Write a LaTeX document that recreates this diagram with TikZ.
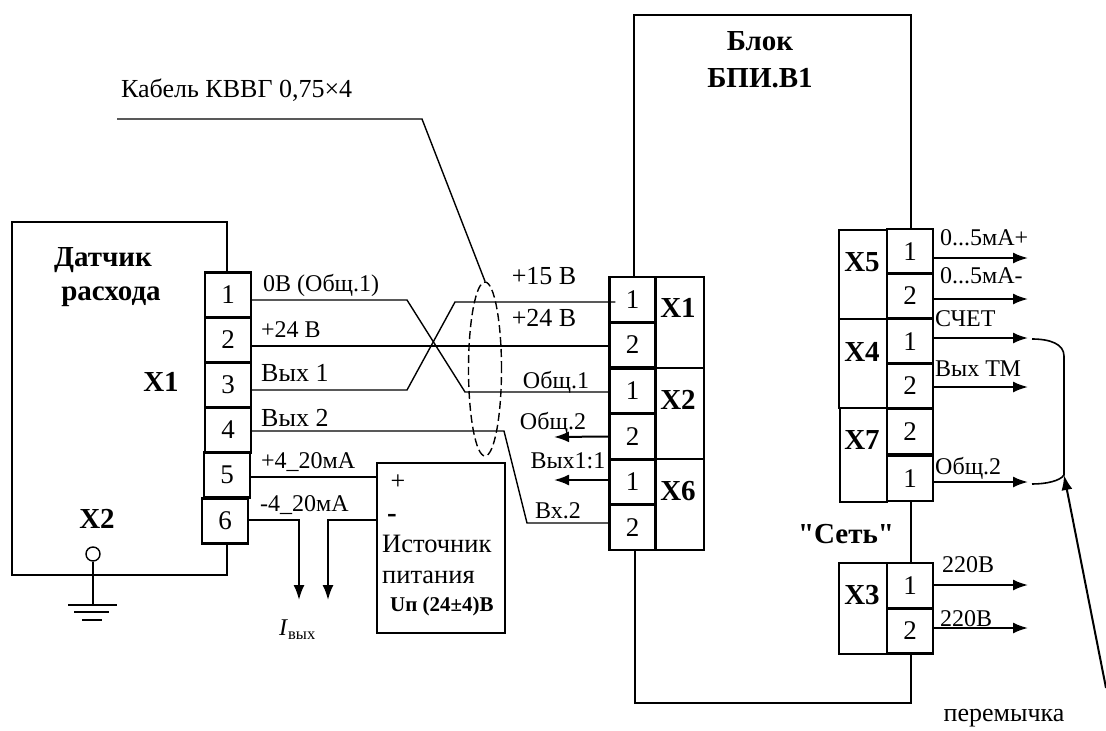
\documentclass[tikz,border=0pt]{standalone}
\usepackage{fontspec}
\setmainfont{Liberation Serif}
\newfontfamily\plainserif{Liberation Serif}
\usetikzlibrary{arrows.meta,shapes.geometric}
\tikzset{
  term/.style={draw, line width=2.2pt, inner sep=0pt, minimum width=46pt, minimum height=45pt, font=\fontsize{27}{27}\selectfont},
  hvy/.style={line width=2.2pt},
  wire/.style={line width=1.4pt},
  outw/.style={line width=2pt, -{Latex[length=15pt,width=11pt]}},
  txt/.style={inner sep=0pt, anchor=mid west, yshift=-6pt, font=\fontsize{24}{24}\selectfont},
  txc/.style={inner sep=0pt, anchor=mid, yshift=-6pt, font=\fontsize{24}{24}\selectfont},
  bld/.style={inner sep=0pt, anchor=mid, yshift=-7.5pt, font=\fontsize{29}{29}\selectfont\bfseries},
}
\begin{document}
\begin{tikzpicture}[x=1pt,y=-1pt]
\useasboundingbox (0,0) rectangle (1106,731);
\fill[white] (0,0) rectangle (1106,731);

% datchik
\draw[hvy] (227,273) -- (227,222) -- (12,222) -- (12,575) -- (227,575) -- (227,544);
\foreach \n/\x/\y in {1/228/295,2/228/340,3/228/385,4/228/430,5/227/475,6/225/521}
  \node[term] (d\n) at (\x,\y) {\n\hspace{10pt}};
\node[bld] (ldat) at (103,257) {Датчик};
\node[bld] (lras) at (111,291) {расхода};
\node[bld] (ldx1) at (161,382) {Х1};
\node[bld] (ldx2) at (97,519) {Х2};

% zemlya
\node[circle, draw, line width=1.4pt, inner sep=0pt, minimum size=14pt] (gnd) at (93,554) {};
\coordinate (gbar) at (93,605);
\draw[wire] (gnd) -- (gbar);
\draw[wire] (68,605) -- (117,605);
\draw[wire] (74,612) -- (109,612);
\draw[wire] (82,620) -- (102,620);

% istochnik
\node[draw, line width=2.2pt, inner sep=0pt, minimum width=128pt, minimum height=170pt] (src) at (441,548) {};
\node[txc, font=\fontsize{26}{26}\selectfont] (lplus) at (398,481) {+};
\node[bld] (lminus) at (392,513) {-};
\node[txt, font=\fontsize{26.5}{26.5}\selectfont] (lsrc1) at (382,544) {Источник};
\node[txt, font=\fontsize{26.5}{26.5}\selectfont] (lsrc2) at (382,575) {питания};
\node[txt, font=\fontsize{21}{21}\selectfont\bfseries] (lsrc3) at (390,603) {Uп (24±4)В};

% blok
\draw[hvy] (634,277) -- (634,15) -- (911,15) -- (911,230);
\draw[hvy] (635,550) -- (635,703) -- (911,703) -- (911,654);
\draw[hvy] (911,502) -- (911,563);
\node[bld] (lblok) at (760,41) {Блок};
\node[bld] (lbpi) at (760,78) {БПИ.В1};
\node[bld] (lset) at (846,534) {\plainserif "Сеть"};

% razyomy
\foreach \n/\t/\y in {1/1/299.5,2/2/345,3/1/391,4/2/436.5,5/1/482,6/2/527.5}
  \node[term] (a\n) at (632.5,\y) {\t\hspace{10pt}};
\foreach \n/\t/\y in {1/1/251.5,2/2/296,3/1/341.5,4/2/386,5/2/431.5,6/1/478.5,7/1/585.5,8/2/631}
  \node[term] (b\n) at (910,\y) {\t\hspace{10pt}};
\foreach \xa/\ya/\xb/\yb/\t/\ly in {655/277/704/368/Х1/308,655/368/704/459/Х2/400,655/459/704/550/Х6/491}
  {\draw[hvy] (\xa,\ya) rectangle (\xb,\yb);
   \node[bld] (l\t) at (678,\ly) {\t};}
\foreach \xa/\ya/\xb/\yb/\t/\ly in {839/230/887/319/Х5/262,839/319/887/408/Х4/352,840/408/887/502/Х7/440,839/563/887/654/Х3/595}
  {\draw[hvy] (\xa,\ya) rectangle (\xb,\yb);
   \node[bld] (l\t) at (862,\ly) {\t};}

% provoda
\node[draw, dash pattern=on 8pt off 4pt, ellipse, line width=1.4pt, inner sep=0pt, minimum width=33pt, minimum height=174pt] (cable) at (485,369) {};
\draw[wire] ([yshift=-5pt]d1.east) -- (407,300) -- (465,392) -- ([yshift=-1pt]a3.west);
\draw[wire] ([yshift=-6pt]d2.east) -- ([yshift=-1pt]a2.west);
\draw[wire] ([yshift=-5pt]d3.east) -- (407,390) -- (455,302) -- ([xshift=7pt,yshift=-2.5pt]a1.west);
\draw[wire] ([yshift=-1pt]d4.east) -- (504,431) -- (527,523) -- ([yshift=4.5pt]a6.west);
\draw[wire] ([yshift=-2pt]d5.east) -- (src.west |- 0,477);
\coordinate (i1) at (299,600);
\coordinate (i2) at (328,600);
\draw[outw] ([yshift=1pt]d6.east) -- (299,520) -- (i1);
\draw[outw] (src.west |- 0,520) -- (328,520) -- (i2);
\coordinate (la) at (117,119);
\coordinate (lb) at (422,119);
\draw[wire] (la) -- (lb) -- (cable.north);
\coordinate (o2) at (554,437);
\coordinate (o3) at (554,480);
\draw[outw] (a4.west) -- (o2);
\draw[outw] ([yshift=2pt]a5.west) -- (o3);

\foreach \n/\y in {1/258,2/299,3/338,4/387,6/482,7/585,8/628}
  {\coordinate (e\n) at (1028,\y);
   \draw[outw] (b\n.east |- e\n) -- (e\n);}

% peremychka
\coordinate (j1) at (1032,339);
\coordinate (j2) at (1064,475);
\coordinate (j3) at (1032,484);
\coordinate (jt) at (1106,688);
\draw[line width=1.6pt] (j1) .. controls (1050,339) and (1064,344) .. (1064,356) -- (j2) .. controls (1060,481) and (1046,484) .. (j3);
\draw[outw] (jt) -- (j2);

% podpisi
\node[txt, font=\fontsize{26}{26}\selectfont] (tkab) at (121,89) {Кабель КВВГ 0,75×4};
\node[txt] (t1) at (263,283) {0В (Общ.1)};
\node[txt] (t2) at (261,329) {+24 В};
\node[txt, font=\fontsize{26}{26}\selectfont] (t3) at (261,373) {Вых 1};
\node[txt, font=\fontsize{26}{26}\selectfont] (t4) at (261,418) {Вых 2};
\node[txt] (t5) at (261,460) {+4\_20мА};
\node[txt] (t6) at (260,503) {-4\_20мА};
\node[txc, font=\fontsize{26}{26}\selectfont] (t15) at (544,276) {+15 В};
\node[txc, font=\fontsize{26}{26}\selectfont] (t24) at (544,318) {+24 В};
\node[txc] (tob1) at (556,380) {Общ.1};
\node[txc] (tob2) at (553,421) {Общ.2};
\node[txc] (tvy1) at (568,460) {Вых1:1};
\node[txc] (tvx2) at (558,510) {Вх.2};
\node[txt] (tma1) at (940,237) {0...5мА+};
\node[txt] (tma2) at (940,275) {0...5мА-};
\node[txt] (tsch) at (935,318) {СЧЕТ};
\node[txt] (ttm) at (935,368) {Вых ТМ};
\node[txt] (tob3) at (935,466) {Общ.2};
\node[txc] (t220a) at (968,564) {220В};
\node[txc] (t220b) at (966,618) {220В};
\node[txc, font=\fontsize{26}{26}\selectfont] (tper) at (1004,713) {перемычка};
\node[txt] (tiv) at (279,627) {\textit{I}\raisebox{-4pt}{\fontsize{16.5}{16.5}\selectfont вых}};
\end{tikzpicture}
\end{document}
